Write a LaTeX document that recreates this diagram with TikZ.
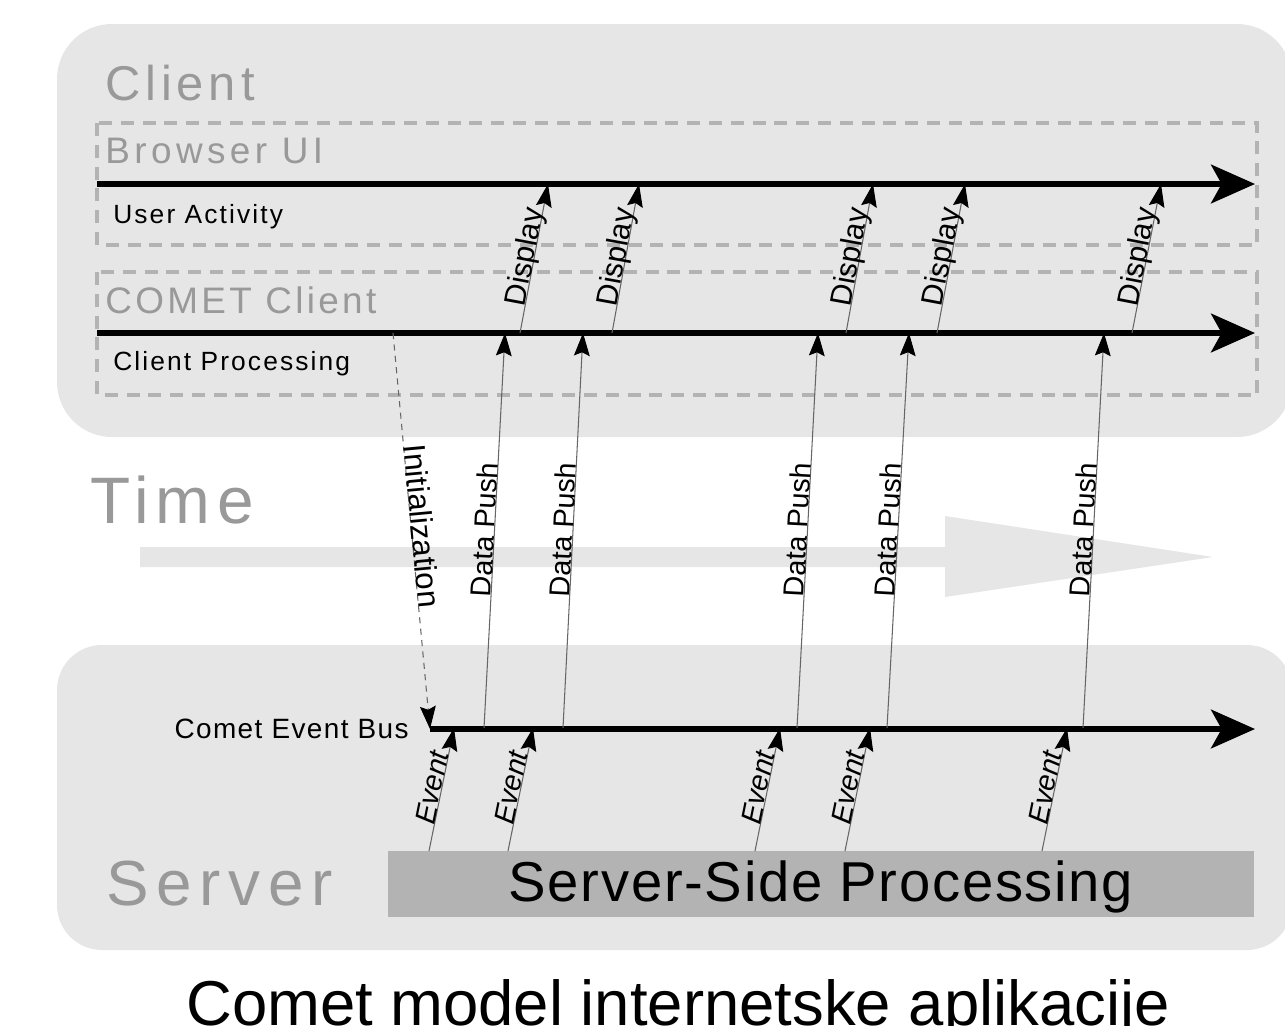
\documentclass[tikz,border=0pt]{standalone}
\usepackage{fontspec}
\setmainfont{Liberation Sans}
\newfontfamily\lsBig[LetterSpace=10]{Liberation Sans}
\newfontfamily\lsSrv[LetterSpace=12]{Liberation Sans}
\newfontfamily\lsBrowser[LetterSpace=12]{Liberation Sans}
\newfontfamily\lsComet[LetterSpace=9]{Liberation Sans}
\newfontfamily\lsSmall[LetterSpace=8]{Liberation Sans}
\newfontfamily\lsBus[LetterSpace=5]{Liberation Sans}
\newfontfamily\lsProc[LetterSpace=3]{Liberation Sans}
\usetikzlibrary{arrows.meta}
\definecolor{bgbox}{HTML}{E6E6E6}
\definecolor{dashc}{HTML}{B3B3B3}
\definecolor{greytxt}{HTML}{999999}
\definecolor{procbox}{HTML}{B3B3B3}
\tikzset{
  panel/.style={fill=bgbox, draw=none},
  lane/.style={draw=dashc, line width=2.3pt, dash pattern=on 7.4pt off 5pt},
  timeline/.style={line width=3.2pt, -{Stealth[length=25pt,width=22pt,inset=6pt]}},
  msg/.style={draw=black!60, line width=0.6pt, -{Stealth[length=13pt,width=9pt,inset=2pt,color=black]}},
  initmsg/.style={msg, dash pattern=on 3.5pt off 3pt},
  lbl/.style={sloped, anchor=base, inner sep=0pt, pos=0.5, font=\fontsize{16.4}{19}\selectfont},
  bigtitle/.style={anchor=base west, inner sep=0pt, text=greytxt},
  lanetxt/.style={anchor=base west, inner sep=0pt, font=\lsSmall\fontsize{15}{18}\selectfont}
}
\begin{document}
\begin{tikzpicture}[x=0.02cm,y=-0.02cm]
\useasboundingbox (0,0) rectangle (1285,1025);
% panels
\fill[panel, rounded corners=1.1cm] (57,24) rectangle (1292,437);
\fill[panel, rounded corners=0.9cm] (57,645) rectangle (1292,950);
% time arrow
\fill[bgbox] (140,547) -- (945,547) -- (945,516) -- (1213,557) -- (945,597) -- (945,567) -- (140,567) -- cycle;
% dashed lanes
\draw[lane] (97,123) rectangle (1257,245);
\draw[lane] (97,272) rectangle (1257,395);
% server processing box
\node[fill=procbox, minimum width=866*0.02cm, minimum height=66*0.02cm, inner sep=0pt, anchor=north west] (ssp) at (388,851) {};
\node[anchor=base, inner sep=0pt, font=\lsProc\fontsize{32}{38}\selectfont] (sspT) at (821,901) {Server-Side Processing};
% titles
\node[bigtitle, font=\lsBig\fontsize{27.8}{33}\selectfont] (clientT) at (105,100) {Client};
\node[bigtitle, font=\lsBrowser\fontsize{21}{25}\selectfont] (browserT) at (105,163) {Browser UI};
\node[bigtitle, font=\lsComet\fontsize{21}{25}\selectfont] (cometT) at (105,313) {COMET Client};
\node[bigtitle, font=\lsBig\fontsize{37.4}{44}\selectfont] (timeT) at (90,523) {Time};
\node[bigtitle, font=\lsSrv\fontsize{36.3}{43}\selectfont] (serverT) at (106,905) {Server};
\node[lanetxt] (uaT) at (113,223) {User Activity};
\node[lanetxt] (cpT) at (113,370) {Client Processing};
\node[anchor=base east, inner sep=0pt, font=\lsBus\fontsize{15.9}{19}\selectfont] (busT) at (409,738) {Comet Event Bus};
% timelines
\coordinate (ua0) at (97,184);
\coordinate (ua1) at (1255,184);
\coordinate (cp0) at (97,333);
\coordinate (cp1) at (1255,333);
\coordinate (bus0) at (430,729);
\coordinate (bus1) at (1255,729);
\draw[timeline] (ua0) -- (ua1);
\draw[timeline] (cp0) -- (cp1);
\draw[timeline] (bus0) -- (bus1);
% initialization
\coordinate (ini) at (393,333);
\draw[initmsg] (ini) -- node[lbl, pos=0.49, font=\fontsize{17.8}{21}\selectfont] (iniT) {Initialization} (bus0);
% display arrows
\foreach \i/\xa/\xb in {1/520/548, 2/612/639, 3/846/873, 4/937/965, 5/1132/1161} {
  \coordinate (d\i a) at (\xa,333);
  \coordinate (d\i b) at (\xb,184);
  \draw[msg] (d\i a) -- node[lbl, font=\fontsize{17.2}{20}\selectfont] (d\i T) {Display} (d\i b);
}
% data push arrows
\foreach \i/\xa/\xb in {1/484/505, 2/563/583, 3/797/818, 4/887/909, 5/1083/1104} {
  \coordinate (p\i a) at (\xa,728);
  \coordinate (p\i b) at (\xb,333);
  \draw[msg] (p\i a) -- node[lbl] (p\i T) {Data Push} (p\i b);
}
% event arrows
\foreach \i/\xa/\xb in {1/429/454, 2/508/533, 3/755/780, 4/845/870, 5/1042/1067} {
  \coordinate (e\i a) at (\xa,851);
  \coordinate (e\i b) at (\xb,728);
  \draw[msg] (e\i a) -- node[lbl, font=\itshape\fontsize{16.4}{19}\selectfont] (e\i T) {Event} (e\i b);
}
% caption
\node[anchor=base, inner sep=0pt, font=\fontsize{36.1}{43}\selectfont] (cap) at (678,1025) {Comet model internetske aplikacije};
\end{tikzpicture}
\end{document}
